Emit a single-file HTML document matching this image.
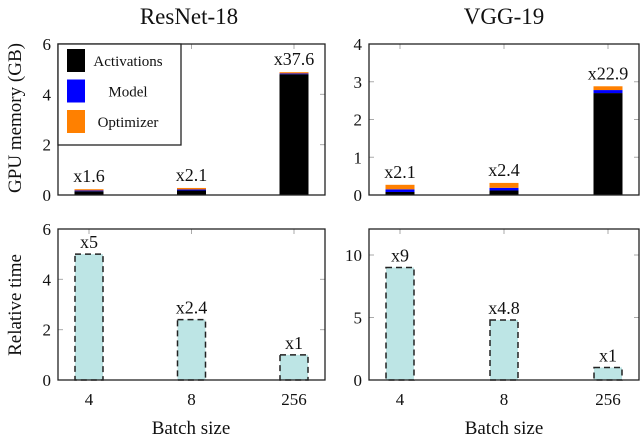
<!DOCTYPE html>
<html><head><meta charset="utf-8"><style>
body{margin:0;background:#fff;width:640px;height:439px;overflow:hidden}
svg text{font-family:"Liberation Serif",serif;fill:#111}
</style></head><body>
<svg id="c" width="640" height="439"></svg>
<script>
const categories=["4","8","256"];
const resAct=[0.15,0.18,4.8];
const resModel=[0.03,0.04,0.03];
const resOpt=[0.05,0.06,0.05];
const resMemLabels=["x1.6","x2.1","x37.6"];
const vggAct=[0.08,0.12,2.7];
const vggModel=[0.07,0.07,0.08];
const vggOpt=[0.12,0.13,0.1];
const vggMemLabels=["x2.1","x2.4","x22.9"];
const resTime=[5,2.4,1];
const resTimeLabels=["x5","x2.4","x1"];
const vggTime=[9,4.8,1];
const vggTimeLabels=["x9","x4.8","x1"];
const resMemTicks=[0,2,4,6];
const vggMemTicks=[0,1,2,3,4];
const resTimeTicks=[0,2,4,6];
const vggTimeTicks=[0,5,10];

const svg=document.getElementById('c');
const NS="http://www.w3.org/2000/svg";
function mk(t,a,p){const e=document.createElementNS(NS,t);for(const k in a)e.setAttribute(k,a[k]);(p||svg).appendChild(e);return e;}
function txt(x,y,s,size,anchor,p){const e=mk('text',{x:x,y:y,'font-size':size,'text-anchor':anchor||'middle'},p);e.textContent=s;return e;}

function panel(name,x0,x1,yTop,yBot,max,ticks,showX){
  const g=mk('g',{});
  
  
  const pad=31,step=(x1-x0-2*pad)/2;
  const xs=i=>x0+pad+i*step;
  const ys=v=>yBot-(v/max)*(yBot-yTop);
  ticks.forEach(t=>{
    const y=ys(t);
    mk('line',{x1:x0,x2:x0+5,y1:y,y2:y,stroke:'#aaa'},g);
    mk('line',{x1:x1-5,x2:x1,y1:y,y2:y,stroke:'#aaa'},g);
    const l=txt(x0-7,y+6,String(t),17,'end',g);
    
    
  });
  categories.forEach((c,i)=>{
    mk('line',{x1:xs(i),x2:xs(i),y1:yTop,y2:yTop+5,stroke:'#aaa'},g);
    if(showX){const l=txt(xs(i),yBot+25,c,17,'middle',g);
      
      }
  });
  return {g,xs,ys};
}
function memPanel(name,x0,x1,max,ticks,act,mod,opt,labels){
  const p=panel(name,x0,x1,44,195,max,ticks,false);
  categories.forEach((c,i)=>{
    let base=0;
    [[act,'#000'],[mod,'#0000ff'],[opt,'#ff8000']].forEach(([arr,col])=>{
      const y0=p.ys(base),y1=p.ys(base+arr[i]);
      const r=mk('rect',{x:p.xs(i)-14.5,y:y1,width:29,height:y0-y1,fill:col},p.g);
      
      
      base+=arr[i];
    });
    const l=txt(p.xs(i),p.ys(base)-7,labels[i],18,'middle',p.g);
    
    
  });
  mk('rect',{x:x0,y:44,width:x1-x0,height:151,fill:'none',stroke:'#222','stroke-width':1.3},p.g);
  return p;
}
function timePanel(name,x0,x1,max,ticks,vals,labels){
  const p=panel(name,x0,x1,229,380,max,ticks,true);
  categories.forEach((c,i)=>{
    const y=p.ys(vals[i]);
    const r=mk('rect',{x:p.xs(i)-14,y:y,width:28,height:380-y,fill:'#bde5e5',stroke:'#222','stroke-dasharray':'6,4','stroke-width':1.5},p.g);
    
    
    const l=txt(p.xs(i),y-6,labels[i],18,'middle',p.g);
    
    
  });
  mk('rect',{x:x0,y:229,width:x1-x0,height:151,fill:'none',stroke:'#222','stroke-width':1.3},p.g);
}
memPanel('resnet-memory-plot',58,325,6,resMemTicks,resAct,resModel,resOpt,resMemLabels);
memPanel('vgg-memory-plot',369,639,4,vggMemTicks,vggAct,vggModel,vggOpt,vggMemLabels);
timePanel('resnet-time-plot',58,325,6,resTimeTicks,resTime,resTimeLabels);
timePanel('vgg-time-plot',369,639,12.08,vggTimeTicks,vggTime,vggTimeLabels);

// legend
const lg=mk('g',{});


mk('rect',{x:58,y:44,width:123,height:101,fill:'#fff',stroke:'#222','stroke-width':1.3},lg);
[['Activations','#000'],['Model','#0000ff'],['Optimizer','#ff8000']].forEach((e,i)=>{
  const y=49+i*30.5;
  const s=mk('rect',{x:67,y:y,width:18,height:23,fill:e[1]},lg);
  
  
  const t=txt(128,y+17,e[0],15,'middle',lg);
  
  
});

let t;
t=txt(189,24,'ResNet-18',23);
t=txt(504,24,'VGG-19',23);
t=txt(191,434,'Batch size',19);
t=txt(504,434,'Batch size',19);
t=txt(0,0,'GPU memory (GB)',19);t.setAttribute('transform','translate(21,118) rotate(-90)');

t=txt(0,0,'Relative time',19);t.setAttribute('transform','translate(21,305) rotate(-90)');

</script>
</body></html>
